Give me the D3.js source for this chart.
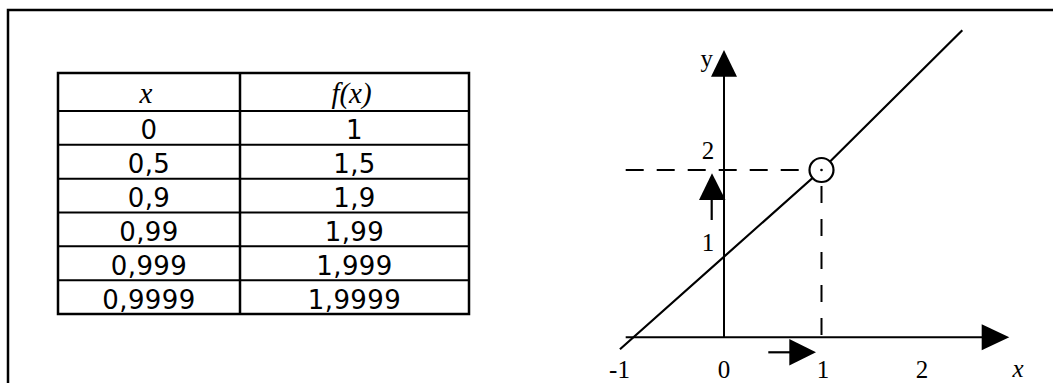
<!DOCTYPE html>
<html>
<head>
<meta charset="utf-8">
<script src="https://cdn.jsdelivr.net/npm/d3@7.9.0/dist/d3.min.js"></script>
<style>
  html, body { margin: 0; padding: 0; background: #fff; }
  svg { display: block; }
</style>
</head>
<body>
<svg id="chart" width="1053" height="383"></svg>
<script>
// ---- data ----
const headers = ["x", "f(x)"];
const xValues = ["0", "0,5", "0,9", "0,99", "0,999", "0,9999"];
const fValues = ["1", "1,5", "1,9", "1,99", "1,999", "1,9999"];

const xTicks = [-1, 0, 1, 2];
const yTicks = [1, 2];
// y = x + 1, drawn as two pieces meeting at the hole (1, 2)
const linePoints = [[-1.067, -0.143], [1, 2], [2.444, 3.671]];
const holePoint = [1, 2];

const svg = d3.select("#chart");
const ink = "#000";

// frame (top and left edges only)
svg.append("path")
  .attr("d", "M8,383 L8,10 L1053,10")
  .attr("fill", "none")
  .attr("stroke", ink)
  .attr("stroke-width", 2.5);

// ---- table ----
const colEdges = [58, 240, 469];
const headerTop = 73, headerBottom = 111, tableBottom = 314;

const rowScale = d3.scaleBand()
  .domain(d3.range(xValues.length))
  .range([headerBottom, tableBottom]);

const table = svg.append("g").attr("class", "table");

table.append("rect")
  .attr("x", colEdges[0]).attr("y", headerTop)
  .attr("width", colEdges[2] - colEdges[0])
  .attr("height", tableBottom - headerTop)
  .attr("fill", "none").attr("stroke", ink).attr("stroke-width", 2.5);

table.append("line")
  .attr("x1", colEdges[1]).attr("x2", colEdges[1])
  .attr("y1", headerTop).attr("y2", tableBottom)
  .attr("stroke", ink).attr("stroke-width", 2.5);

table.selectAll("line.row")
  .data(rowScale.domain())
  .enter().append("line")
  .attr("class", "row")
  .attr("x1", colEdges[0]).attr("x2", colEdges[2])
  .attr("y1", d => rowScale(d)).attr("y2", d => rowScale(d))
  .attr("stroke", ink).attr("stroke-width", 2);

const colCenter = i => (colEdges[i] + colEdges[i + 1]) / 2;

table.selectAll("text.head")
  .data(headers)
  .enter().append("text")
  .attr("class", "head")
  .attr("x", (d, i) => colCenter(i) - 3)
  .attr("y", headerBottom - 8)
  .attr("text-anchor", "middle")
  .style("font-family", "'Liberation Serif', 'Times New Roman', serif")
  .style("font-style", "italic")
  .style("font-size", "29px")
  .text(d => d);

[xValues, fValues].forEach((col, ci) => {
  table.selectAll("text.c" + ci)
    .data(col)
    .enter().append("text")
    .attr("class", "c" + ci)
    .attr("x", colCenter(ci))
    .attr("y", (d, i) => rowScale(i) + rowScale.bandwidth() - 5.5)
    .attr("text-anchor", "middle")
    .style("font-family", "'DejaVu Sans', Verdana, sans-serif")
    .style("font-size", "26px")
    .style("letter-spacing", "0.4px")
    .text(d => d);
});

// ---- graph ----
const x = d3.scaleLinear().domain([0, 1]).range([724, 821.5]);
const y = d3.scaleLinear().domain([0, 2]).range([337.3, 170]);

const g = svg.append("g").attr("class", "graph");
const serif = "'Liberation Serif', 'Times New Roman', serif";

// dashed guides to the hole
g.append("line")
  .attr("x1", 625.7).attr("x2", x(holePoint[0]) - 12)
  .attr("y1", y(holePoint[1])).attr("y2", y(holePoint[1]))
  .attr("stroke", ink).attr("stroke-width", 2)
  .attr("stroke-dasharray", "18,13");
g.append("line")
  .attr("x1", x(holePoint[0])).attr("x2", x(holePoint[0]))
  .attr("y1", y(holePoint[1]) + 16).attr("y2", y(0))
  .attr("stroke", ink).attr("stroke-width", 2)
  .attr("stroke-dasharray", "17,16");

// axes
g.append("line")
  .attr("x1", 625.7).attr("x2", 983)
  .attr("y1", y(0)).attr("y2", y(0))
  .attr("stroke", ink).attr("stroke-width", 2);
g.append("path")
  .attr("d", `M981.7,${y(0) - 13} L1009.3,${y(0)} L981.7,${y(0) + 13} Z`)
  .attr("fill", ink);

g.append("line")
  .attr("x1", x(0)).attr("x2", x(0))
  .attr("y1", y(0)).attr("y2", 75)
  .attr("stroke", ink).attr("stroke-width", 2);
g.append("path")
  .attr("d", `M${x(0) - 13},76.7 L${x(0)},50 L${x(0) + 13},76.7 Z`)
  .attr("fill", ink);

// the function line
g.append("path")
  .datum(linePoints)
  .attr("d", d3.line().x(d => x(d[0])).y(d => y(d[1])))
  .attr("fill", "none")
  .attr("stroke", ink)
  .attr("stroke-width", 2.2);

// hole at (1, 2)
g.append("circle")
  .attr("cx", x(holePoint[0])).attr("cy", y(holePoint[1]))
  .attr("r", 12)
  .attr("fill", "#fff").attr("stroke", ink).attr("stroke-width", 2.2);
g.append("circle")
  .attr("cx", x(holePoint[0])).attr("cy", y(holePoint[1]))
  .attr("r", 1.3)
  .attr("fill", ink);

// approach arrows
g.append("line")
  .attr("x1", 711.7).attr("x2", 711.7)
  .attr("y1", 220).attr("y2", 199)
  .attr("stroke", ink).attr("stroke-width", 2.2);
g.append("path")
  .attr("d", "M699,200 L712,173.3 L725.5,200 Z")
  .attr("fill", ink);

g.append("line")
  .attr("x1", 768.3).attr("x2", 790)
  .attr("y1", 352.3).attr("y2", 352.3)
  .attr("stroke", ink).attr("stroke-width", 2.2);
g.append("path")
  .attr("d", "M789.3,339 L816,352.3 L789.3,365.5 Z")
  .attr("fill", ink);

// tick labels
g.selectAll("text.xt")
  .data(xTicks)
  .enter().append("text")
  .attr("class", "xt")
  .attr("x", d => x(d) + (d < 0 ? -7 : d * 1.5))
  .attr("y", 378)
  .attr("text-anchor", "middle")
  .style("font-family", serif)
  .style("font-size", "25px")
  .text(d => d);

g.selectAll("text.yt")
  .data(yTicks)
  .enter().append("text")
  .attr("class", "yt")
  .attr("x", 708)
  .attr("y", d => d === 2 ? 159 : 250.5)
  .attr("text-anchor", "middle")
  .style("font-family", serif)
  .style("font-size", "25px")
  .text(d => d);

g.append("text")
  .attr("x", 1018).attr("y", 377)
  .attr("text-anchor", "middle")
  .style("font-family", serif)
  .style("font-style", "italic")
  .style("font-size", "25px")
  .text("x");

g.append("text")
  .attr("x", 713).attr("y", 67)
  .attr("text-anchor", "end")
  .style("font-family", serif)
  .style("font-size", "25px")
  .text("y");
</script>
</body>
</html>
